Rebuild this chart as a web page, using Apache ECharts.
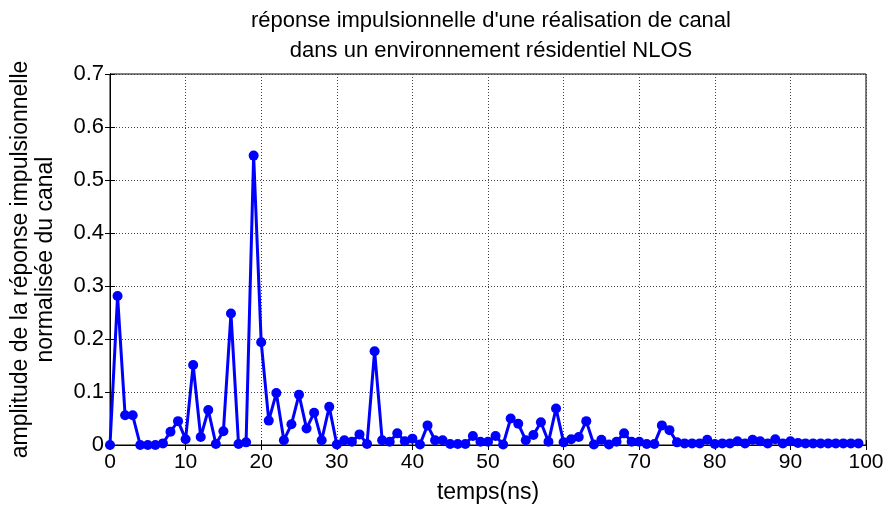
<!DOCTYPE html>
<html>
<head>
<meta charset="utf-8">
<script src="https://cdn.jsdelivr.net/npm/echarts@6/dist/echarts.min.js"></script>
<style>
html,body{margin:0;padding:0;background:#fff;}
#c{width:890px;height:509px;}
</style>
</head>
<body>
<div id="c"></div>
<script>
var timeNs = [];
for (var i = 0; i < 100; i++) timeNs.push(i);
var amplitude = [
  0.000, 0.281, 0.056, 0.056, 0.000, 0.000, 0.000, 0.003, 0.025, 0.045,
  0.011, 0.151, 0.015, 0.066, 0.002, 0.026, 0.248, 0.002, 0.005, 0.546,
  0.194, 0.046, 0.098, 0.009, 0.039, 0.095, 0.031, 0.061, 0.009, 0.072,
  0.001, 0.009, 0.006, 0.020, 0.002, 0.177, 0.009, 0.006, 0.022, 0.007,
  0.012, 0.001, 0.037, 0.009, 0.009, 0.002, 0.002, 0.002, 0.017, 0.006,
  0.006, 0.017, 0.001, 0.050, 0.040, 0.009, 0.019, 0.043, 0.006, 0.069,
  0.005, 0.011, 0.015, 0.045, 0.001, 0.010, 0.001, 0.006, 0.022, 0.006,
  0.006, 0.002, 0.002, 0.037, 0.028, 0.005, 0.003, 0.003, 0.003, 0.010,
  0.002, 0.003, 0.003, 0.007, 0.003, 0.010, 0.007, 0.003, 0.011, 0.003,
  0.007, 0.004, 0.003, 0.003, 0.003, 0.003, 0.003, 0.003, 0.003, 0.003
];
var xTickLabels = ['0','10','20','30','40','50','60','70','80','90','100'];
var yTickLabels = ['0','0.1','0.2','0.3','0.4','0.5','0.6','0.7'];
var titleText = "réponse impulsionnelle d'une réalisation de canal\ndans un environnement résidentiel NLOS";
var xName = 'temps(ns)';
var yName = 'amplitude de la réponse impulsionnelle\nnormalisée du canal';

var data = timeNs.map(function(t, k){ return [t, amplitude[k]]; });
var FONT = 'Liberation Sans, Arial, sans-serif';

var chart = echarts.init(document.getElementById('c'), null, {renderer:'canvas'});
var gridLine = {show:true, lineStyle:{color:'#444', type:[1,2], width:1}};
chart.setOption({
  animation:false,
  backgroundColor:'#fff',
  title:{
    text:titleText, left:486, top:1, textAlign:'center',
    textStyle:{fontFamily:FONT, fontSize:22, fontWeight:'normal', color:'#000', lineHeight:30}
  },
  grid:{left:109, right:24, top:74, bottom:64, show:true, borderColor:'#000', borderWidth:1, backgroundColor:'#fff'},
  xAxis:[{
    type:'value', min:0, max:100, interval:10, position:'bottom',
    name:xName, nameLocation:'middle', nameGap:36,
    nameTextStyle:{fontFamily:FONT, fontSize:23, color:'#000'},
    axisLine:{show:true, lineStyle:{color:'#000', width:1}},
    axisTick:{show:true, inside:true, length:5, lineStyle:{color:'#000'}},
    axisLabel:{fontFamily:FONT, fontSize:21, color:'#000', margin:7,
      formatter:function(v){ return xTickLabels[Math.round(v/10)]; }},
    splitLine:gridLine
  },{
    type:'value', min:0, max:100, interval:10, position:'top',
    axisLine:{show:true, lineStyle:{color:'#000'}},
    axisTick:{show:true, inside:true, length:5, lineStyle:{color:'#000'}},
    axisLabel:{show:false}, splitLine:{show:false}
  }],
  yAxis:[{
    type:'value', min:0, max:0.7, interval:0.1, position:'left',
    name:yName, nameLocation:'middle', nameGap:52, nameRotate:90,
    nameTextStyle:{fontFamily:FONT, fontSize:23, color:'#000', lineHeight:25},
    axisLine:{show:true, lineStyle:{color:'#000', width:1}},
    axisTick:{show:true, inside:true, length:5, lineStyle:{color:'#000'}},
    axisLabel:{fontFamily:FONT, fontSize:22, color:'#000', margin:6,
      formatter:function(v){ return yTickLabels[Math.round(v*10)]; }},
    splitLine:gridLine
  },{
    type:'value', min:0, max:0.7, interval:0.1, position:'right',
    axisLine:{show:true, lineStyle:{color:'#000'}},
    axisTick:{show:true, inside:true, length:5, lineStyle:{color:'#000'}},
    axisLabel:{show:false}, splitLine:{show:false}
  }],
  series:[{
    type:'line', data:data, xAxisIndex:0, yAxisIndex:0,
    symbol:'circle', symbolSize:10, showSymbol:true,
    lineStyle:{color:'#0000ff', width:3},
    itemStyle:{color:'#0000ff', borderWidth:0},
    clip:false
  }]
});
</script>
</body>
</html>
